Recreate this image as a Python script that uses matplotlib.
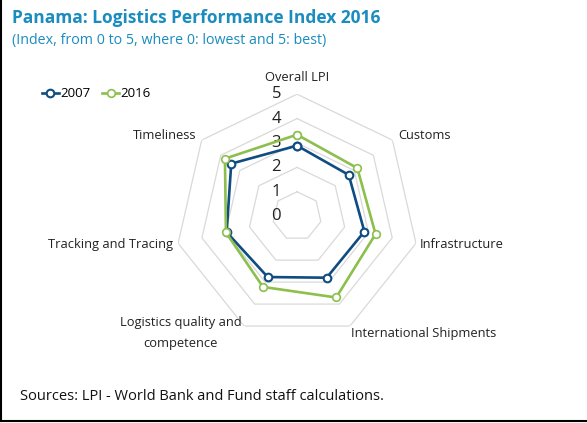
"""
Panama LPI radar chart
"""
import numpy as np
import matplotlib
matplotlib.use("Agg")
import matplotlib.pyplot as plt
from matplotlib.lines import Line2D

categories = ["Overall LPI", "Customs", "Infrastructure", "International Shipments",
              "Logistics quality and\ncompetence", "Tracking and Tracing", "Timeliness"]
lpi_2007 = [2.89, 2.71, 2.83, 2.80, 2.77, 2.96, 3.45]
lpi_2016 = [3.34, 3.16, 3.30, 3.70, 3.22, 2.99, 3.78]
rings = [1, 2, 3, 4, 5]
tick_labels = ["0", "1", "2", "3", "4", "5"]

FONT = "Open Sans"
C2007 = "#0f4c81"
C2016 = "#8cbf4c"
TITLE_C = "#1b8cbf"


def main():
    fig = plt.figure(figsize=(5.87, 4.23), dpi=100)
    ax = fig.add_axes([0.506 - 0.2078, 0.489 - 0.2884, 0.4157, 0.5768], polar=True)
    ax.set_theta_zero_location("N")
    ax.set_theta_direction(-1)
    ax.set_ylim(0, 5)
    ax.grid(False)
    ax.spines["polar"].set_visible(False)
    ax.set_xticks([])
    ax.set_yticks([])
    ax.patch.set_alpha(0)

    n = len(categories)
    ang = np.linspace(0, 2 * np.pi, n, endpoint=False)
    ang_c = np.append(ang, ang[0])

    # heptagon grid
    for r in rings:
        ax.plot(ang_c, [r] * (n + 1), color="#d9d9d9", lw=0.9, zorder=1)

    # radial value labels
    for i, lab in enumerate(tick_labels):
        ax.annotate(lab, xy=(0, i), xytext=(-11.5, 0), textcoords="offset points",
                    ha="right", va="center", fontsize=12, family=FONT, color="#222222")

    ax.plot(ang_c, lpi_2007 + lpi_2007[:1], color=C2007, lw=1.9, marker="o",
            markersize=5.5, markerfacecolor="white", markeredgewidth=1.5,
            label="2007", zorder=3)
    ax.plot(ang_c, lpi_2016 + lpi_2016[:1], color=C2016, lw=1.9, marker="o",
            markersize=5.5, markerfacecolor="white", markeredgewidth=1.2,
            label="2016", zorder=4)

    # category labels
    offs = [((0, 12), "center", "center"),
            ((4, 3), "left", "center"),
            ((3, -1), "left", "center"),
            ((1, -1), "left", "top"),
            ((-2, -5), "right", "center"),
            ((-4, -1), "right", "center"),
            ((-4, 3), "right", "center")]
    for a, lab, (xy, ha, va) in zip(ang, categories, offs):
        ax.annotate(lab, xy=(a, 5), xytext=xy, textcoords="offset points",
                    ha=ha, va=va, fontsize=9.3, family=FONT, color="#222222",
                    multialignment="center", linespacing=1.75)

    fig.text(0.02, 0.958, "Panama: Logistics Performance Index 2016", fontsize=12.5,
             fontweight="bold", family=FONT, color=TITLE_C, ha="left", va="center")
    fig.text(0.02, 0.905, "(Index, from 0 to 5, where 0: lowest and 5: best)", fontsize=10.3,
             family=FONT, color=TITLE_C, ha="left", va="center")

    fig.legend(loc="center left", bbox_to_anchor=(0.062, 0.778), ncol=2, frameon=False,
               prop={"family": FONT, "size": 9.5}, handlelength=1.3, handletextpad=0.1,
               columnspacing=0.9, borderaxespad=0)

    fig.text(0.034, 0.062, "Sources: LPI - World Bank and Fund staff calculations.",
             fontsize=10.5, family=FONT, color="#111111", ha="left", va="center")

    fig.add_artist(Line2D([0.002, 0.002], [0.005, 1.0], color="black", lw=1.5,
                          transform=fig.transFigure))
    fig.add_artist(Line2D([0.002, 1.0], [0.005, 0.005], color="black", lw=1.5,
                          transform=fig.transFigure))

    fig.savefig("out.png", dpi=100, facecolor="white")


main()
